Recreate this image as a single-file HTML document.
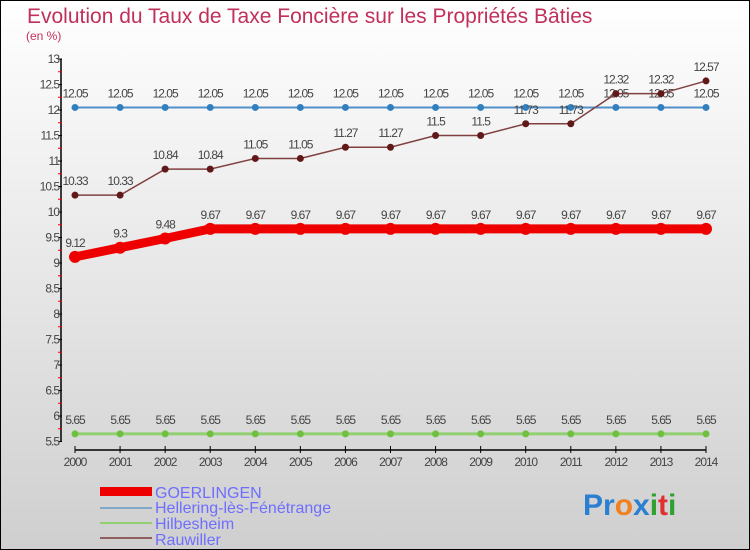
<!DOCTYPE html>
<html><head><meta charset="utf-8"><style>
body{margin:0}
#c{width:750px;height:550px;position:relative;overflow:hidden;box-sizing:border-box;border:1px solid #000;background:linear-gradient(#ffffff,#cfcfcf);font-family:"Liberation Sans",sans-serif}
</style></head><body>
<div id="c">
<svg id="s" width="750" height="550" style="position:absolute;left:-1px;top:-1px">
<text x="27" y="23" font-size="21" fill="#c0305a">Evolution du Taux de Taxe Foncière sur les Propriétés Bâties</text>
<text x="26" y="40" font-size="12" fill="#c0305a">(en %)</text>
<g id="axes"></g><g id="series"></g>
<g font-size="16" fill="#6e6eff">
<rect x="100" y="487" width="52" height="9" fill="#e00"/>
<text x="155" y="498">GOERLINGEN</text>
<rect x="100" y="507" width="52" height="2" fill="#80a8c8"/>
<text x="155" y="513">Hellering-lès-Fénétrange</text>
<rect x="100" y="522" width="52" height="2" fill="#90d070"/>
<text x="155" y="529">Hilbesheim</text>
<rect x="100" y="537" width="52" height="2" fill="#906060"/>
<text x="155" y="545">Rauwiller</text>
</g>
<text x="583" y="515" font-size="30" font-weight="bold"><tspan fill="#2a7fd0">Pr</tspan><tspan fill="#f08020">o</tspan><tspan fill="#2a7fd0">x</tspan><tspan fill="#30a030">i</tspan><tspan fill="#e03030">t</tspan><tspan fill="#30a030">i</tspan></text>
</svg>
</div>
<script>
const years=[2000,2001,2002,2003,2004,2005,2006,2007,2008,2009,2010,2011,2012,2013,2014];
const yTicks=[5.5,6,6.5,7,7.5,8,8.5,9,9.5,10,10.5,11,11.5,12,12.5,13];
const goerlingen=[9.12,9.3,9.48,9.67,9.67,9.67,9.67,9.67,9.67,9.67,9.67,9.67,9.67,9.67,9.67];
const hellering=[12.05,12.05,12.05,12.05,12.05,12.05,12.05,12.05,12.05,12.05,12.05,12.05,12.05,12.05,12.05];
const hilbesheim=[5.65,5.65,5.65,5.65,5.65,5.65,5.65,5.65,5.65,5.65,5.65,5.65,5.65,5.65,5.65];
const rauwiller=[10.33,10.33,10.84,10.84,11.05,11.05,11.27,11.27,11.5,11.5,11.73,11.73,12.32,12.32,12.57];
const NS="http://www.w3.org/2000/svg";
const xS=i=>75+i*(706-75)/(years.length-1);
const yS=v=>59+(13-v)*51;
function mk(p,t,a){const e=document.createElementNS(NS,t);for(const k in a)e.setAttribute(k,a[k]);p.appendChild(e);return e;}
const ax=document.getElementById('axes');
const yl=mk(ax,'line',{x1:61,y1:yS(13),x2:61,y2:yS(5.5),stroke:'#000','stroke-width':1.5});


const xl=mk(ax,'line',{x1:75,y1:450,x2:706,y2:450,stroke:'#000','stroke-width':1.5});


yTicks.forEach(v=>{
 mk(ax,'line',{x1:58,y1:yS(v),x2:62,y2:yS(v),stroke:'#000'});
 if(v<13)mk(ax,'line',{x1:58,y1:yS(v+0.25),x2:62,y2:yS(v+0.25),stroke:'#e00'});
 const t=mk(ax,'text',{x:59,y:yS(v)+4,'text-anchor':'end','font-size':12,fill:'#444','letter-spacing':'-1'});
 t.textContent=v;
 
 
});
years.forEach((y,i)=>{
 mk(ax,'line',{x1:xS(i),y1:446,x2:xS(i),y2:453,stroke:'#000'});
 const t=mk(ax,'text',{x:xS(i),y:466,'text-anchor':'middle','font-size':12,fill:'#444','letter-spacing':'-1'});
 t.textContent=y;
 
 
});
const sg=document.getElementById('series');
function series(vals,name,col,w,r,dot,lab){
 const g=mk(sg,'g',{});
 
 
 mk(g,'polyline',{points:vals.map((v,i)=>xS(i)+','+yS(v)).join(' '),fill:'none',stroke:col,'stroke-width':w});
 vals.forEach((v,i)=>{
  const c=mk(g,'circle',{cx:xS(i),cy:yS(v),r:r,fill:dot});
  
  
  const t=mk(g,'text',{x:xS(i),y:yS(v)-10,'text-anchor':'middle','font-size':12,fill:'#444','letter-spacing':'-1'});
  t.textContent=String(v).replace('.', '.');
  
  
 });
}
series(hilbesheim,'hilbesheim','#90d070',3,3.5,'#70c040');
series(hellering,'hellering','#5090c8',2,3.5,'#3080c0');
series(rauwiller,'rauwiller','#804040',1.5,3.5,'#601818');
series(goerlingen,'goerlingen','#ee0000',9,6,'#ee0000');
</script>
</body></html>
